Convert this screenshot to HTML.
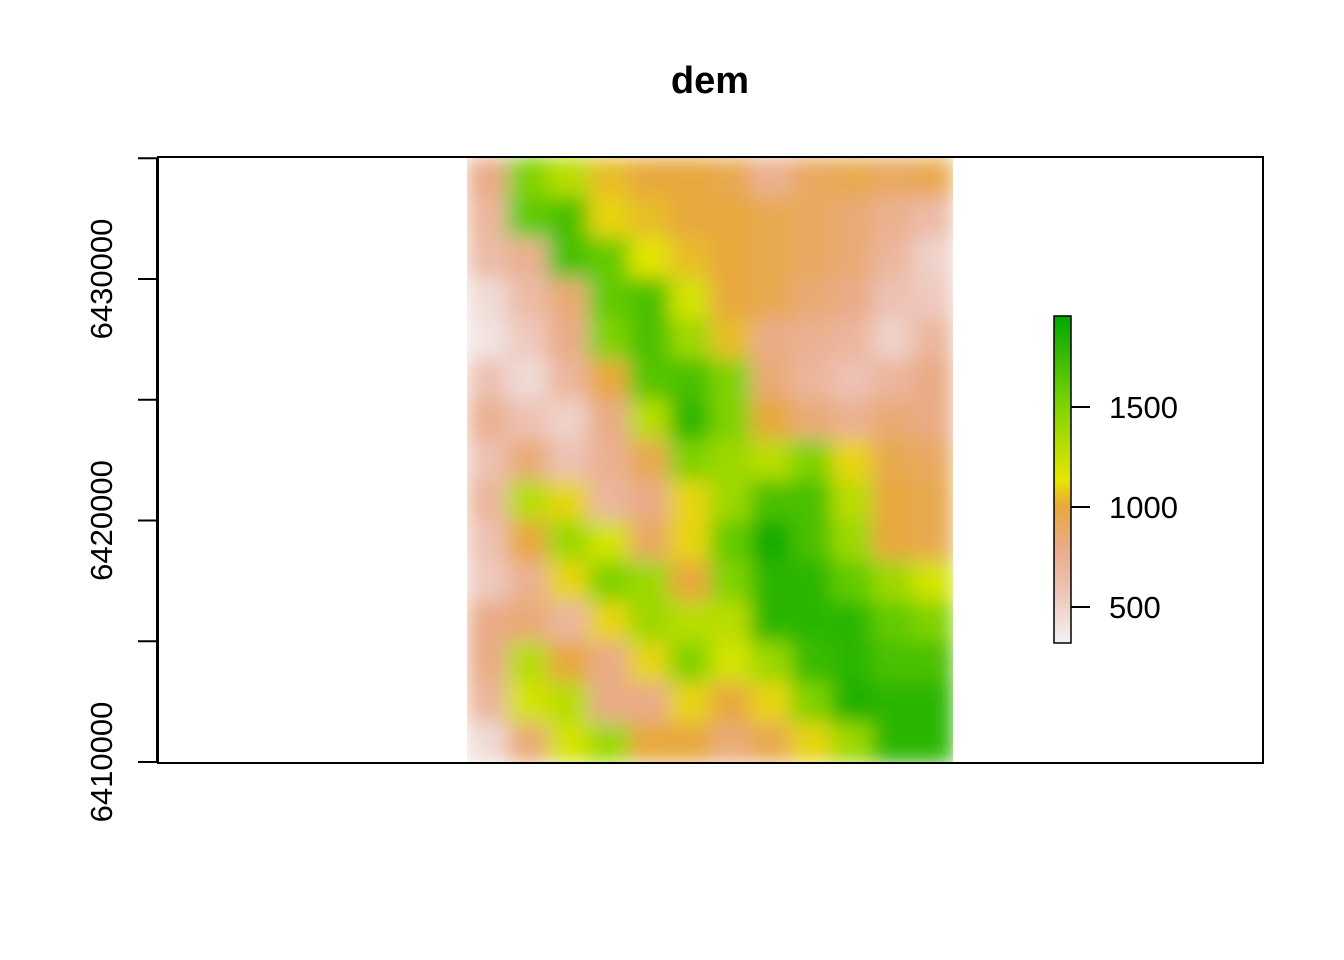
<!DOCTYPE html>
<html><head><meta charset="utf-8"><style>
html,body{margin:0;padding:0;background:#fff;}
svg{display:block;font-family:"Liberation Sans",Arial,sans-serif;}
</style></head><body>
<svg id="chart" width="1344" height="960" viewBox="0 0 1344 960">
<defs>
<clipPath id="rclip"><rect x="467" y="157" width="486" height="606"/></clipPath>
<filter id="smooth" x="0" y="0" width="1" height="1"><feGaussianBlur stdDeviation="10" edgeMode="duplicate"/></filter>
<linearGradient id="lgrad" x1="0" y1="1" x2="0" y2="0"></linearGradient>
</defs>
<text x="710" y="93" text-anchor="middle" font-size="38" font-weight="bold">dem</text>
<g id="raster-wrap" clip-path="url(#rclip)"><g id="raster" filter="url(#smooth)"></g></g>
<rect x="158" y="157" width="1105" height="606" fill="none" stroke="#000" stroke-width="2"/>
<g id="yaxis"></g>
<g id="legend"></g>
</svg>
<script>
const ns="http://www.w3.org/2000/svg";
const gridRows=[
[800,1500,1300,1050,1000,1000,950,750,900,950,900,950],
[700,1600,1700,1100,1050,1000,1000,950,900,850,750,650],
[650,750,1700,1600,1150,1050,1000,950,900,850,700,500],
[450,650,850,1600,1700,1200,1000,950,850,800,600,550],
[400,550,800,1500,1700,1400,1050,800,750,700,500,700],
[600,450,700,1000,1650,1700,1500,850,700,600,700,800],
[750,600,500,800,1300,1800,1500,1000,850,750,850,800],
[600,850,600,750,950,1500,1400,1300,1500,1100,950,900],
[700,1300,1100,700,800,1100,1400,1700,1700,1300,1000,950],
[600,1000,1400,1200,900,1100,1600,1900,1700,1400,1000,950],
[550,750,1100,1500,1400,1000,1500,1800,1800,1600,1400,1200],
[800,850,700,1100,1400,1300,1300,1800,1800,1800,1600,1500],
[800,1300,1000,800,1100,1500,1200,1400,1750,1800,1700,1700],
[700,1200,1300,800,800,1100,1000,1100,1500,1850,1800,1800],
[450,850,1200,1400,1000,1000,850,950,1100,1400,1800,1800]
];
const yTicks=[6410000,6415000,6420000,6425000,6430000,6435000];
const yLabels=[6410000,6420000,6430000];
const legendTicks=[500,1000,1500];
const zMin=320, zMax=1955;
const stops=[[0,[242,242,242]],[0.17,[237,193,179]],[0.3,[233,170,132]],[0.42,[232,168,58]],[0.5,[230,230,0]],[0.75,[115,208,0]],[1,[0,166,0]]];
function color(v){let t=Math.max(0,Math.min(1,(v-zMin)/(zMax-zMin)));
 for(let i=1;i<stops.length;i++){if(t<=stops[i][0]){const a=stops[i-1],b=stops[i];const f=(t-a[0])/(b[0]-a[0]);
 return "rgb("+a[1].map((c,k)=>Math.round(c+(b[1][k]-c)*f)).join(",")+")";}}return "rgb(0,166,0)";}
const rx0=467,rx1=953,ry0=157,ry1=763;
const nR=gridRows.length,nC=gridRows[0].length;
const cw=(rx1-rx0)/nC,ch=(ry1-ry0)/nR;
const rg=document.getElementById('raster');
gridRows.forEach((row,r)=>row.forEach((v,c)=>{
 const e=document.createElementNS(ns,'rect');
 e.setAttribute('x',rx0+c*cw);e.setAttribute('y',ry0+r*ch);
 e.setAttribute('width',cw+0.6);e.setAttribute('height',ch+0.6);
 e.setAttribute('fill',color(v));
 
 
 rg.appendChild(e);}));
const yScale=v=>762-(v-6410000)*(483/20000);
const ya=document.getElementById('yaxis');
const ax=document.createElementNS(ns,'line');
ax.setAttribute('x1',157);ax.setAttribute('x2',157);ax.setAttribute('y1',yScale(6410000));ax.setAttribute('y2',yScale(6435000));
ax.setAttribute('stroke','#000');ax.setAttribute('stroke-width',2);


ya.appendChild(ax);
yTicks.forEach(t=>{const l=document.createElementNS(ns,'line');
 l.setAttribute('x1',138);l.setAttribute('x2',158);l.setAttribute('y1',yScale(t));l.setAttribute('y2',yScale(t));
 l.setAttribute('stroke','#000');l.setAttribute('stroke-width',2);
 
 
 ya.appendChild(l);});
yLabels.forEach(t=>{const tx=document.createElementNS(ns,'text');const y=yScale(t);
 tx.setAttribute('x',112);tx.setAttribute('y',y);tx.setAttribute('text-anchor','middle');tx.setAttribute('font-size','31');
 tx.setAttribute('transform','rotate(-90 112 '+y+')');tx.textContent=t;
 
 
 ya.appendChild(tx);});
const lg=document.getElementById('legend');
const lScale=v=>607-(v-500)*(100/500);
const gr=document.getElementById('lgrad');
stops.forEach(s=>{const st=document.createElementNS(ns,'stop');st.setAttribute('offset',s[0]);st.setAttribute('stop-color','rgb('+s[1].join(',')+')');gr.appendChild(st);});
const lb=document.createElementNS(ns,'rect');
lb.setAttribute('x',1054);lb.setAttribute('y',lScale(zMax));lb.setAttribute('width',17);lb.setAttribute('height',lScale(zMin)-lScale(zMax));
lb.setAttribute('fill','url(#lgrad)');lb.setAttribute('stroke','#000');lb.setAttribute('stroke-width',1.5);


lg.appendChild(lb);
legendTicks.forEach(t=>{const y=lScale(t);const l=document.createElementNS(ns,'line');
 l.setAttribute('x1',1071);l.setAttribute('x2',1090);l.setAttribute('y1',y);l.setAttribute('y2',y);l.setAttribute('stroke','#000');l.setAttribute('stroke-width',2);
 
 
 lg.appendChild(l);
 const tx=document.createElementNS(ns,'text');tx.setAttribute('x',1109);tx.setAttribute('y',y+11);tx.setAttribute('font-size','31');tx.textContent=t;
 
 
 lg.appendChild(tx);});
</script>
</body></html>
